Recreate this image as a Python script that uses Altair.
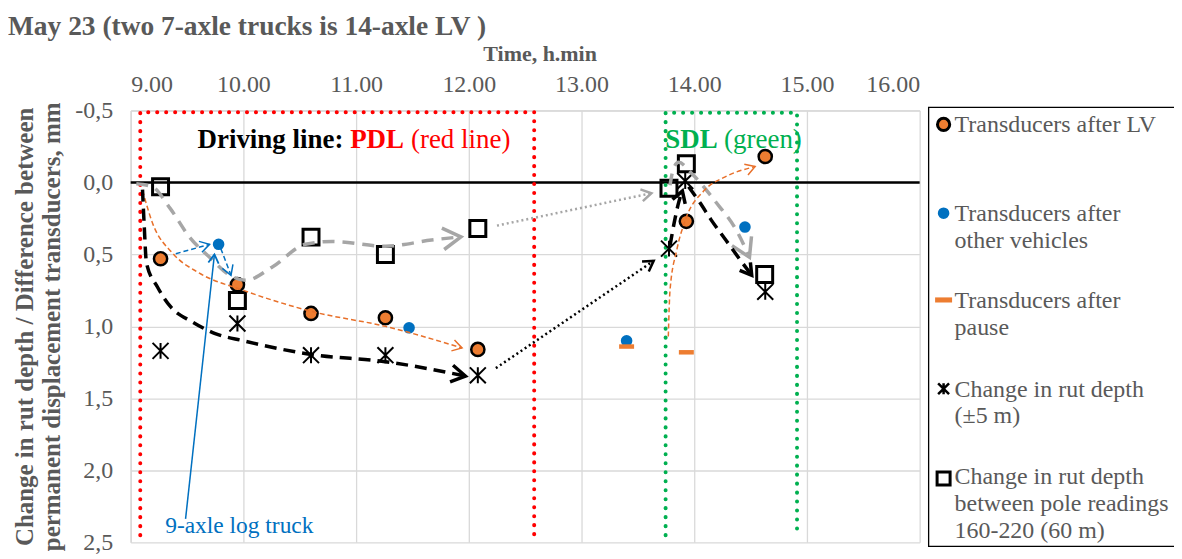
import math
import altair as alt
import pandas as pd

# ---------------- data ----------------
x_ticks = [9, 10, 11, 12, 13, 14, 15, 16]
y_ticks = [-0.5, 0.0, 0.5, 1.0, 1.5, 2.0, 2.5]

lv_time = [9.265, 9.947, 10.60, 11.26, 12.08, 13.93, 14.63]
lv_val = [0.53, 0.71, 0.91, 0.94, 1.16, 0.27, -0.18]

other_time = [9.78, 11.47, 13.40, 14.45]
other_val = [0.43, 1.01, 1.10, 0.31]

pause_time = [13.40, 13.93]
pause_val = [1.14, 1.18]

rut_time = [9.265, 9.947, 10.60, 11.26, 12.08, 13.776, 13.92, 14.63]
rut_val = [1.17, 0.98, 1.20, 1.20, 1.34, 0.46, -0.01, 0.76]

pole_time = [9.265, 9.947, 10.60, 11.26, 12.08, 13.776, 13.93, 14.625]
pole_val = [0.03, 0.82, 0.38, 0.50, 0.32, 0.04, -0.13, 0.64]

# hand-drawn annotation curves (data units)
blk1_x = [9.105, 9.12, 9.14, 9.24, 9.35, 9.55, 9.75, 10.0, 10.6, 11.26, 11.97]
blk1_y = [0.05, 0.30, 0.56, 0.73, 0.86, 0.97, 1.05, 1.10, 1.195, 1.245, 1.345]
blkdot_x = [12.24, 13.64]
blkdot_y = [1.29, 0.545]
blk2_x = [13.785, 13.83, 13.865, 13.895]
blk2_y = [0.44, 0.25, 0.13, 0.06]
blk3_x = [13.95, 14.05, 14.15, 14.28, 14.40, 14.51]
blk3_y = [0.03, 0.14, 0.26, 0.40, 0.53, 0.645]
gry1_x = [9.05, 9.19, 9.35, 9.52, 9.70, 9.88, 10.02, 10.26, 10.55, 10.79, 11.26, 11.67, 11.93]
gry1_y = [0.01, 0.03, 0.18, 0.378, 0.52, 0.645, 0.68, 0.585, 0.43, 0.41, 0.443, 0.40, 0.378]
grydot_x = [12.25, 13.62]
grydot_y = [0.30, 0.075]
gry2_x = [13.785, 13.81, 13.86, 13.98, 14.18, 14.39, 14.49]
gry2_y = [0.02, -0.08, -0.14, -0.06, 0.125, 0.355, 0.52]
org1_x = [9.105, 9.195, 9.37, 9.61, 9.99, 10.61, 11.26, 11.94]
org1_y = [0.055, 0.285, 0.49, 0.63, 0.747, 0.897, 1.0, 1.15]
org2_x = [13.77, 13.785, 13.845, 13.92, 14.09, 14.27, 14.54]
org2_y = [1.07, 0.75, 0.47, 0.263, 0.055, -0.037, -0.11]
blu1_x = [9.40, 9.70]
blu1_y = [0.495, 0.43]
blu2_x = [9.80, 9.89]
blu2_y = [0.46, 0.645]
blus_x = [9.487, 9.743]
blus_y = [2.337, 0.50]

# driving-line frames
pdl_x = [9.085, 9.085, 12.58, 12.58]
pdl_y = [2.45, -0.488, -0.488, 2.45]
sdl_x = [13.746, 13.746, 14.912, 14.912]
sdl_y = [2.45, -0.484, -0.484, 2.45]

title_text = "May 23 (two 7-axle trucks is 14-axle LV )"
legend_labels = [
    ["Transducers after LV"],
    ["Transducers after", "other vehicles"],
    ["Transducers after", "pause"],
    ["Change in rut depth", "(\u00b15 m)"],
    ["Change in rut depth", "between pole readings", "160-220 (60 m)"],
]

# ---------------- styling ----------------
W, H = 791, 433
XD, YD = [9, 16], [-0.5, 2.5]
FONT = "Liberation Serif"
TXT = "#595959"
ORANGE = "#ED7D31"
ORANGE_LN = "#E8702A"
BLUE = "#0070C0"
GREY = "#A6A6A6"
RED = "#FF0000"
GREEN = "#00B050"
ARROW = "M-1,-0.6L0,0L-1,0.6"
STAR = "M-1,-1L1,1M-1,1L1,-1M0,-1L0,1"
DASH = "M-1,-0.3L1,-0.3L1,0.3L-1,0.3Z"

xscale = alt.Scale(domain=XD, nice=False, zero=False)
yscale = alt.Scale(domain=YD, reverse=True, nice=False, zero=False)
xaxis = alt.Axis(
    orient="top", values=x_ticks, format=".2f", title="Time, h.min",
    labelFont=FONT, labelFontSize=24, labelColor=TXT, labelPadding=14,
    ticks=False, tickSize=0, domainColor="#D9D9D9", domainWidth=1.5,
    gridColor="#D9D9D9", gridWidth=1.3,
    titleFont=FONT, titleFontSize=22, titleFontWeight="bold", titleColor=TXT,
    titlePadding=7, titleX=410,
)
yaxis = alt.Axis(
    values=y_ticks,
    labelExpr="(datum.value < 0 ? '-' : '') + replace(format(abs(datum.value), '.1f'), '.', ',')",
    labelFont=FONT, labelFontSize=24, labelColor=TXT, labelPadding=18,
    ticks=False, tickSize=0, domainColor="#D9D9D9", domainWidth=1.5,
    gridColor="#D9D9D9", gridWidth=1.3,
    title=["Change in rut depth / Difference between", "permanent displacement transducers, mm"],
    titleFont=FONT, titleFontSize=25, titleFontWeight="bold", titleColor=TXT,
    titleLineHeight=27, titlePadding=10,
)


def X():
    return alt.X("x:Q", scale=xscale, axis=xaxis)


def Y():
    return alt.Y("y:Q", scale=yscale, axis=yaxis)


def pts(xs, ys):
    return pd.DataFrame({"x": xs, "y": ys})


def curve(xs, ys, color, width, head, head_w, dash=None):
    df = pd.DataFrame({"x": xs, "y": ys, "o": list(range(len(xs)))})
    kw = dict(color=color, strokeWidth=width, interpolate="monotone")
    if dash:
        kw["strokeDash"] = dash
    line = alt.Chart(df).mark_line(**kw).encode(x=X(), y=Y(), order="o:Q")
    dx = (xs[-1] - xs[-2]) * W / (XD[1] - XD[0])
    dy = (ys[-1] - ys[-2]) * H / (YD[1] - YD[0])
    ang = math.degrees(math.atan2(dy, dx)) % 360
    hd = pd.DataFrame({"x": [xs[-1]], "y": [ys[-1]], "a": [ang]})
    tip = alt.Chart(hd).mark_point(
        shape=ARROW, size=head, filled=False, stroke=color, strokeWidth=head_w,
        opacity=1, strokeJoin="miter",
    ).encode(x=X(), y=Y(), angle=alt.Angle("a:Q", scale=None))
    return line + tip


def frame(xs, ys, color):
    df = pd.DataFrame({"x": xs, "y": ys, "o": list(range(len(xs)))})
    return alt.Chart(df).mark_line(
        color=color, strokeWidth=4, strokeDash=[0.1, 8.9], strokeCap="round"
    ).encode(x=X(), y=Y(), order="o:Q")


zero = alt.Chart(pd.DataFrame({"y": [0.0]})).mark_rule(color="black", strokeWidth=2.5).encode(y=Y())

frames = frame(pdl_x, pdl_y, RED) + frame(sdl_x, sdl_y, GREEN)

s_lv = alt.Chart(pts(lv_time, lv_val)).mark_point(
    shape="circle", filled=True, fill=ORANGE, stroke="black", strokeWidth=2.5, size=175, opacity=1
).encode(x=X(), y=Y())
s_other = alt.Chart(pts(other_time, other_val)).mark_point(
    shape="circle", filled=True, fill=BLUE, strokeWidth=0, size=135, opacity=1
).encode(x=X(), y=Y())
s_pause = alt.Chart(pts(pause_time, pause_val)).mark_point(
    shape=DASH, filled=True, fill=ORANGE, strokeWidth=0, size=225, opacity=1
).encode(x=X(), y=Y())
s_rut = alt.Chart(pts(rut_time, rut_val)).mark_point(
    shape=STAR, filled=False, stroke="black", strokeWidth=2, size=256, opacity=1
).encode(x=X(), y=Y())
s_pole = alt.Chart(pts(pole_time, pole_val)).mark_point(
    shape="square", filled=False, stroke="black", strokeWidth=3, size=256, opacity=1
).encode(x=X(), y=Y())

arrows = (
    curve(gry1_x, gry1_y, GREY, 3.5, 1300, 3.5, [12, 8])
    + curve(grydot_x, grydot_y, GREY, 2.5, 400, 2.5, [2, 3])
    + curve(gry2_x, gry2_y, GREY, 3.5, 1300, 3.5, [12, 8])
    + curve(org1_x, org1_y, ORANGE_LN, 1.5, 360, 1.5, [5, 3])
    + curve(org2_x, org2_y, ORANGE_LN, 1.5, 360, 1.5, [5, 3])
    + curve(blk1_x, blk1_y, "black", 3.5, 800, 3.5, [12, 7])
    + curve(blkdot_x, blkdot_y, "black", 2.5, 400, 2.5, [2, 3])
    + curve(blk2_x, blk2_y, "black", 3.5, 500, 3.5, [12, 7])
    + curve(blk3_x, blk3_y, "black", 3.5, 500, 3.5, [12, 7])
    + curve(blu1_x, blu1_y, BLUE, 1.5, 360, 1.5, [5, 3])
    + curve(blu2_x, blu2_y, BLUE, 1.5, 360, 1.5, [5, 3])
    + curve(blus_x, blus_y, BLUE, 1.5, 300, 1.8)
)

# in-plot texts (anchor positions in data units)
pdl_anchor = pts([9.593], [-0.236])
sdl_anchor = pts([13.743], [-0.236])
log_anchor = pts([9.306], [2.432])


def label(df, text, color, size, weight="normal", dx=0):
    return alt.Chart(df).mark_text(
        text=text, font=FONT, fontSize=size, fontWeight=weight, color=color,
        align="left", baseline="alphabetic", dx=dx,
    ).encode(x=X(), y=Y())


texts = (
    label(pdl_anchor, "Driving line:", "black", 27, "bold")
    + label(pdl_anchor, "PDL", RED, 27, "bold", dx=153)
    + label(pdl_anchor, "(red line)", RED, 27, "normal", dx=214)
    + label(sdl_anchor, "SDL", GREEN, 27, "bold")
    + label(sdl_anchor, "(green)", GREEN, 27, "normal", dx=59)
    + label(log_anchor, "9-axle log truck", BLUE, 23.5)
)

# ---------------- legend (drawn beside the plot) ----------------
one = pd.DataFrame({"k": [0]})
leg_box = alt.Chart(one).mark_rect(fill="white", stroke="black", strokeWidth=1.3).encode(
    x=alt.value(800), x2=alt.value(1065), y=alt.value(-3), y2=alt.value(437)
)
LX, TX = 815, 826
sym_y = [14, 103, 190, 279, 369]
txt_y = [22, 111, 198, 287, 375]
leg_syms = [
    dict(shape="circle", filled=True, fill=ORANGE, stroke="black", strokeWidth=3, size=150),
    dict(shape="circle", filled=True, fill=BLUE, strokeWidth=0, size=135),
    dict(shape=DASH, filled=True, fill=ORANGE, strokeWidth=0, size=290),
    dict(shape=STAR, filled=False, stroke="black", strokeWidth=2.5, size=120),
    dict(shape="square", filled=False, stroke="black", strokeWidth=3, size=170),
]
legend = leg_box
for sy, ty, sty, lab in zip(sym_y, txt_y, leg_syms, legend_labels):
    legend = legend + alt.Chart(one).mark_point(opacity=1, **sty).encode(
        x=alt.value(LX), y=alt.value(sy)
    )
    legend = legend + alt.Chart(one).mark_text(
        text=lab, font=FONT, fontSize=24, color=TXT, align="left",
        baseline="alphabetic", lineHeight=26.7,
    ).encode(x=alt.value(TX), y=alt.value(ty))

chart = alt.layer(
    zero, frames, s_lv, s_other, s_pause, s_rut, s_pole, arrows, texts, legend
).properties(
    width=W, height=H,
    title=alt.TitleParams(
        text=title_text, anchor="start", frame="group", dx=-123, dy=2, offset=4,
        font=FONT, fontSize=27.5, fontWeight="bold", color=TXT,
    ),
    autosize=alt.AutoSizeParams(type="none"),
    padding={"left": 123, "top": 102, "right": 255, "bottom": 12},
    background="white",
).configure_view(strokeWidth=0)

chart.save("out.html", embed_options={"renderer": "svg", "actions": False})
